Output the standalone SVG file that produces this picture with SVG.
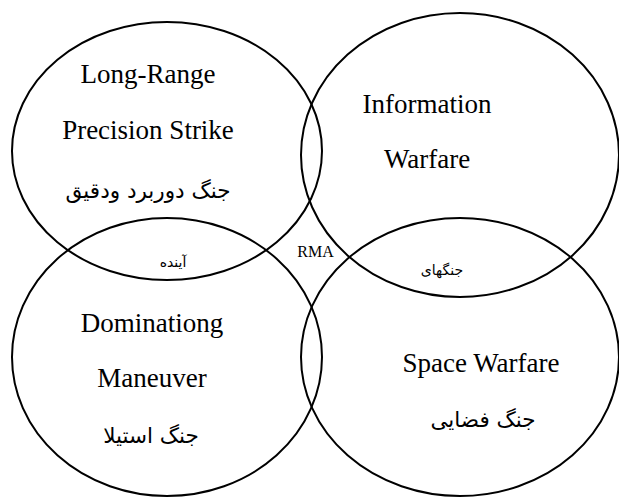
<svg xmlns="http://www.w3.org/2000/svg" width="619" height="498" viewBox="0 0 619 498">
<style>
.c{fill:none;stroke:#000;stroke-width:2}
.en{font-family:"Liberation Serif",serif;font-size:27px;fill:#000;text-anchor:middle}
.fa{font-family:"DejaVu Sans","Noto Sans",sans-serif;font-size:21.5px;fill:#000;text-anchor:middle}
.sm{font-family:"DejaVu Sans",sans-serif;font-size:14px;fill:#000;text-anchor:middle}
</style>
<rect width="619" height="498" fill="#fff"/>
<g id="node-longrange">
<ellipse class="c" cx="167" cy="151" rx="155" ry="129"/>
<text class="en" x="148" y="83">Long-Range</text>
<text class="en" x="148" y="139">Precision Strike</text>
<text class="fa" x="148" y="198" direction="rtl">جنگ دوربرد ودقیق</text>
</g>
<g id="node-information">
<ellipse class="c" cx="460" cy="155" rx="159" ry="142"/>
<text class="en" x="427" y="113">Information</text>
<text class="en" x="427" y="168">Warfare</text>
</g>
<g id="node-domination">
<ellipse class="c" cx="167" cy="357" rx="155" ry="139"/>
<text class="en" x="152" y="332">Dominationg</text>
<text class="en" x="152" y="387">Maneuver</text>
<text class="fa" x="151" y="443" direction="rtl">جنگ استیلا</text>
</g>
<g id="node-space">
<ellipse class="c" cx="460" cy="357" rx="159" ry="139"/>
<text class="en" x="481" y="372">Space Warfare</text>
<text class="fa" x="483" y="427" direction="rtl">جنگ فضایی</text>
</g>
<g id="labels">
<text class="en" x="315.5" y="257" style="font-size:16px">RMA</text>
<text class="sm" x="173" y="267" direction="rtl">آینده</text>
<text class="sm" x="442" y="275" direction="rtl">جنگهای</text>
</g>
<g id="connectors"></g>
</svg>
